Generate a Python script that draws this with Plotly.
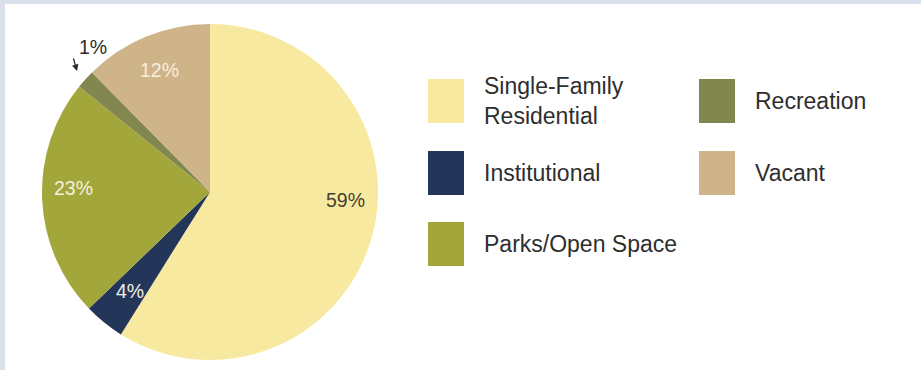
import plotly.graph_objects as go

W, H = 921, 370

categories = ["Single-Family<br>Residential", "Institutional", "Parks/Open Space", "Recreation", "Vacant"]
shares = [58.9, 3.9, 23.0, 1.8, 12.4]
pct_labels = ["59%", "4%", "23%", "1%", "12%"]
colors = ["#f8e9a1", "#233659", "#a3a73b", "#82864f", "#d0b489"]
text_colors = ["#45412f", "#f1efe6", "#f4f1dc", "#2b2b2b", "#f6efe0"]

# label placement (pixel centers) — layout only
label_xy = [(345, 200), (130, 291), (73, 188), (93, 47), (159, 70)]

FONT = "Liberation Sans, Arial, Helvetica, sans-serif"

def px(x):
    return x / W

def py(y):
    return 1 - y / H

fig = go.Figure()
fig.add_trace(go.Pie(
    labels=categories,
    values=shares,
    text=pct_labels,
    textinfo="none",
    marker=dict(colors=colors, line=dict(width=0)),
    sort=False,
    direction="clockwise",
    rotation=0,
    showlegend=False,
    hoverinfo="label+text",
    domain=dict(x=[px(42), px(378)], y=[py(360), py(24)]),
))

shapes = [dict(type="rect", xref="paper", yref="paper", layer="below",
               x0=px(5), x1=1, y0=0, y1=py(4),
               fillcolor="#ffffff", line=dict(width=0))]
annotations = []

# slice labels
for lab, (lx, ly), tc in zip(pct_labels, label_xy, text_colors):
    annotations.append(dict(xref="paper", yref="paper", x=px(lx), y=py(ly), text=lab,
                            showarrow=False, xanchor="center", yanchor="middle",
                            font=dict(family=FONT, size=19.5, color=tc)))
# arrow for the small slice
annotations.append(dict(xref="paper", yref="paper", x=px(77), y=py(71), ax=-4, ay=-14,
                        text="", showarrow=True,
                        arrowhead=2, arrowsize=1, arrowwidth=1.3, arrowcolor="#2b2b2b"))

# custom legend: two columns of large swatches
col_x = [428, 699]
row_y = [79, 151, 222]
sw_w, sw_h = 36, 44
layout_slots = [(0, 0), (0, 1), (0, 2), (1, 0), (1, 1)]
for i, (name, col) in enumerate(zip(categories, colors)):
    c, r = layout_slots[i]
    x0 = col_x[c]
    y0 = row_y[r]
    shapes.append(dict(type="rect", xref="paper", yref="paper",
                       x0=px(x0), x1=px(x0 + sw_w), y0=py(y0 + sw_h), y1=py(y0),
                       fillcolor=col, line=dict(width=0)))
    annotations.append(dict(xref="paper", yref="paper", x=px(x0 + sw_w + 18), y=py(y0 + sw_h / 2),
                            xanchor="left", yanchor="middle", text=name, showarrow=False,
                            align="left",
                            font=dict(family=FONT, size=23, color="#2e2e2e")))

fig.update_layout(
    width=W, height=H,
    margin=dict(l=0, r=0, t=0, b=0),
    paper_bgcolor="#dbe1ec",
    plot_bgcolor="#ffffff",
    shapes=shapes,
    annotations=annotations,
    font=dict(family=FONT),
)

fig.write_html("out.html")
